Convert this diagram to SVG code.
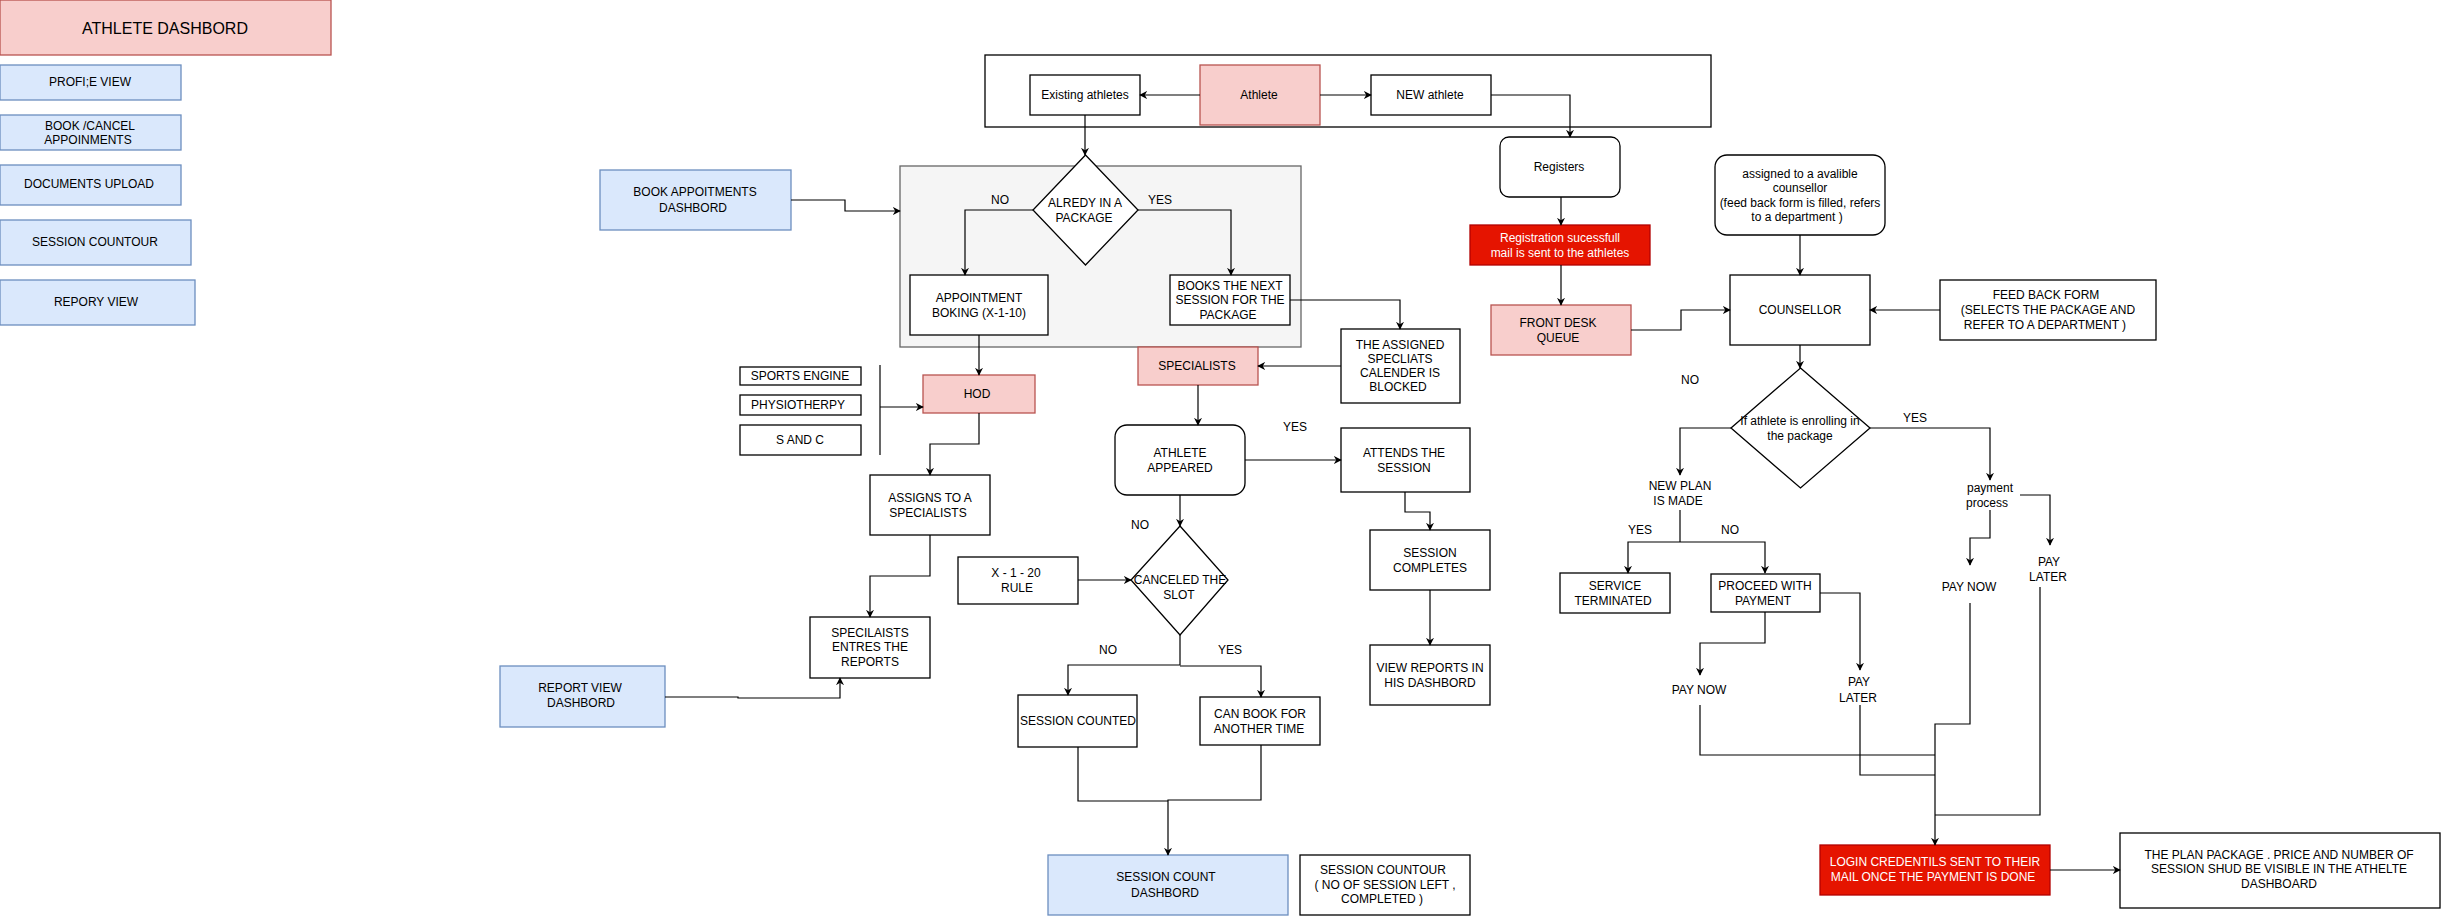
<svg xmlns="http://www.w3.org/2000/svg" width="2441" height="917" viewBox="0 0 2441 917">
<style>
text{font-family:"Liberation Sans",Arial,sans-serif;font-size:12px;fill:#000;text-anchor:middle;dominant-baseline:central}
.w{fill:#fff;stroke:#000;stroke-width:1.3}
.p{fill:#f8cecc;stroke:#b85450;stroke-width:1.3}
.b{fill:#dae8fc;stroke:#6c8ebf;stroke-width:1.3}
.r{fill:#e51400;stroke:#b20000;stroke-width:1.3}
.wt{fill:#fff}
.c path{fill:none;stroke:#000;stroke-width:1.2;marker-end:url(#a)}
.c path.n{marker-end:none}
</style>
<defs><marker id="a" viewBox="0 0 10 10" refX="9" refY="5" markerWidth="8" markerHeight="8" orient="auto" markerUnits="userSpaceOnUse"><path d="M0,0L10,5L0,10L3,5Z" fill="#000"/></marker></defs>
<rect width="2441" height="917" fill="#fff"/>
<g id="container-top"><rect x="985" y="55" width="726" height="72" fill="none" stroke="#000" stroke-width="1.3"/></g>
<g id="container-grey"><rect x="900" y="166" width="401" height="181" fill="#f5f5f5" stroke="#666" stroke-width="1.3"/></g>
<g id="athlete-dashbord"><rect class="p" x="0" y="0" width="331" height="55"/><text x="165" y="28" style="font-size:16px">ATHLETE DASHBORD</text></g>
<g id="profile"><rect class="b" x="0" y="65" width="181" height="35"/><text x="90" y="82">PROFI;E VIEW</text></g>
<g id="bookcancel"><rect class="b" x="0" y="115" width="181" height="35"/><text x="90" y="126">BOOK /CANCEL</text><text x="88" y="140">APPOINMENTS</text></g>
<g id="docs"><rect class="b" x="0" y="165" width="181" height="40"/><text x="89" y="184">DOCUMENTS UPLOAD</text></g>
<g id="sessioncountour"><rect class="b" x="0" y="220" width="191" height="45"/><text x="95" y="242">SESSION  COUNTOUR</text></g>
<g id="repory"><rect class="b" x="0" y="280" width="195" height="45"/><text x="96" y="302">REPORY VIEW</text></g>
<g id="bookdash"><rect class="b" x="600" y="170" width="191" height="60"/><text x="695" y="192">BOOK APPOITMENTS</text><text x="693" y="208">DASHBORD</text></g>
<g id="sports"><rect class="w" x="740" y="367" width="121" height="18"/><text x="800" y="376">SPORTS ENGINE</text></g>
<g id="physio"><rect class="w" x="740" y="395" width="121" height="20"/><text x="798" y="405">PHYSIOTHERPY</text></g>
<g id="sandc"><rect class="w" x="740" y="425" width="121" height="30"/><text x="800" y="440">S AND C</text></g>
<g id="existing"><rect class="w" x="1030" y="75" width="110" height="40"/><text x="1085" y="95">Existing athletes</text></g>
<g id="athlete"><rect class="p" x="1200" y="65" width="120" height="60"/><text x="1259" y="95">Athlete</text></g>
<g id="newathlete"><rect class="w" x="1371" y="75" width="120" height="40"/><text x="1430" y="95">NEW athlete</text></g>
<g id="alredy"><path class="w" d="M1085.5,155L1138,210L1085.5,265L1033,210Z"/><text x="1085" y="203">ALREDY IN A</text><text x="1084" y="218">PACKAGE</text></g>
<g id="appointment"><rect class="w" x="910" y="275" width="138" height="60"/><text x="979" y="298">APPOINTMENT</text><text x="979" y="313">BOKING (X-1-10)</text></g>
<g id="booksnext"><rect class="w" x="1170" y="275" width="120" height="50"/><text x="1230" y="286">BOOKS THE NEXT</text><text x="1230" y="300">SESSION FOR THE</text><text x="1228" y="315">PACKAGE</text></g>
<g id="assigned"><rect class="w" x="1341" y="329" width="119" height="74"/><text x="1400" y="345">THE ASSIGNED</text><text x="1400" y="359">SPECLIATS</text><text x="1400" y="373">CALENDER IS</text><text x="1398" y="387">BLOCKED</text></g>
<g id="specialists"><rect class="p" x="1138" y="347" width="120" height="38"/><text x="1197" y="366">SPECIALISTS</text></g>
<g id="hod"><rect class="p" x="923" y="375" width="112" height="38"/><text x="977" y="394">HOD</text></g>
<g id="registers"><rect class="w" x="1500" y="137" width="120" height="60" rx="9"/><text x="1559" y="167">Registers</text></g>
<g id="regsuccess"><rect class="r" x="1470" y="225" width="180" height="40"/><text class="wt" x="1560" y="238">Registration sucessfull</text><text class="wt" x="1560" y="253">mail is sent to the athletes</text></g>
<g id="frontdesk"><rect class="p" x="1491" y="305" width="140" height="50"/><text x="1558" y="323">FRONT DESK</text><text x="1558" y="338">QUEUE</text></g>
<g id="avalible"><rect class="w" x="1715" y="155" width="170" height="80" rx="12"/><text x="1800" y="174">assigned to a avalible</text><text x="1800" y="188">counsellor</text><text x="1800" y="203">(feed back form is filled, refers</text><text x="1797" y="217">to a department )</text></g>
<g id="counsellor"><rect class="w" x="1730" y="275" width="140" height="70"/><text x="1800" y="310">COUNSELLOR</text></g>
<g id="feedback"><rect class="w" x="1940" y="280" width="216" height="60"/><text x="2046" y="295">FEED BACK FORM</text><text x="2048" y="310">(SELECTS THE PACKAGE AND</text><text x="2045" y="325">REFER TO A DEPARTMENT )</text></g>
<g id="enrolling"><path class="w" d="M1800.5,368L1870,428L1800.5,488L1731,428Z"/><text x="1800" y="421">If athlete is enrolling in</text><text x="1800" y="436">the package</text></g>
<g id="newplan"><text x="1680" y="486">NEW PLAN</text><text x="1678" y="501">IS MADE</text></g>
<g id="payproc"><text x="1990" y="488">payment</text><text x="1987" y="503">process</text></g>
<g id="terminated"><rect class="w" x="1560" y="573" width="110" height="40"/><text x="1615" y="586">SERVICE</text><text x="1613" y="601">TERMINATED</text></g>
<g id="proceed"><rect class="w" x="1711" y="574" width="109" height="38"/><text x="1765" y="586">PROCEED WITH</text><text x="1763" y="601">PAYMENT</text></g>
<g id="paynow1"><text x="1699" y="690">PAY NOW</text></g>
<g id="paylater1"><text x="1859" y="682">PAY</text><text x="1858" y="698">LATER</text></g>
<g id="paynow2"><text x="1969" y="587">PAY NOW</text></g>
<g id="paylater2"><text x="2049" y="562">PAY</text><text x="2048" y="577">LATER</text></g>
<g id="login"><rect class="r" x="1820" y="845" width="230" height="50"/><text class="wt" x="1935" y="862">LOGIN CREDENTILS SENT TO THEIR</text><text class="wt" x="1933" y="877">MAIL ONCE THE PAYMENT IS DONE</text></g>
<g id="planpackage"><rect class="w" x="2120" y="833" width="320" height="75"/><text x="2279" y="855">THE PLAN PACKAGE  . PRICE AND NUMBER OF</text><text x="2279" y="869">SESSION SHUD BE VISIBLE IN THE ATHELTE</text><text x="2279" y="884">DASHBOARD</text></g>
<g id="assigns"><rect class="w" x="870" y="475" width="120" height="60"/><text x="930" y="498">ASSIGNS TO  A</text><text x="928" y="513">SPECIALISTS</text></g>
<g id="entres"><rect class="w" x="810" y="617" width="120" height="61"/><text x="870" y="633">SPECILAISTS</text><text x="870" y="647">ENTRES THE</text><text x="870" y="662">REPORTS</text></g>
<g id="reportview"><rect class="b" x="500" y="666" width="165" height="61"/><text x="580" y="688">REPORT VIEW</text><text x="581" y="703">DASHBORD</text></g>
<g id="appeared"><rect class="w" x="1115" y="425" width="130" height="70" rx="12"/><text x="1180" y="453">ATHLETE</text><text x="1180" y="468">APPEARED</text></g>
<g id="attends"><rect class="w" x="1341" y="428" width="129" height="64"/><text x="1404" y="453">ATTENDS THE</text><text x="1404" y="468">SESSION</text></g>
<g id="completes"><rect class="w" x="1370" y="530" width="120" height="60"/><text x="1430" y="553">SESSION</text><text x="1430" y="568">COMPLETES</text></g>
<g id="viewreports"><rect class="w" x="1370" y="645" width="120" height="60"/><text x="1430" y="668">VIEW REPORTS IN</text><text x="1430" y="683">HIS DASHBORD</text></g>
<g id="canceled"><path class="w" d="M1180,526L1228,580L1180,635L1131,580Z"/><text x="1180" y="580">CANCELED THE</text><text x="1179" y="595">SLOT</text></g>
<g id="rule"><rect class="w" x="958" y="557" width="120" height="47"/><text x="1016" y="573">X - 1 - 20</text><text x="1017" y="588">RULE</text></g>
<g id="counted"><rect class="w" x="1018" y="695" width="119" height="52"/><text x="1078" y="721">SESSION COUNTED</text></g>
<g id="canbook"><rect class="w" x="1200" y="697" width="120" height="48"/><text x="1260" y="714">CAN BOOK FOR</text><text x="1259" y="729">ANOTHER TIME</text></g>
<g id="countdash"><rect class="b" x="1048" y="855" width="240" height="60"/><text x="1166" y="877">SESSION COUNT</text><text x="1165" y="893">DASHBORD</text></g>
<g id="countour2"><rect class="w" x="1300" y="855" width="170" height="60"/><text x="1383" y="870">SESSION COUNTOUR</text><text x="1385" y="885">( NO OF SESSION LEFT ,</text><text x="1382" y="899">COMPLETED )</text></g>
<g id="labels">
<text x="1000" y="200">NO</text><text x="1160" y="200">YES</text><text x="1690" y="380">NO</text><text x="1915" y="418">YES</text>
<text x="1640" y="530">YES</text><text x="1730" y="530">NO</text><text x="1295" y="427">YES</text><text x="1140" y="525">NO</text>
<text x="1108" y="650">NO</text><text x="1230" y="650">YES</text>
</g>
<g class="c" id="connectors">
<path d="M791,200H845V211H900"/>
<path class="n" d="M880,365V455"/>
<path d="M880,407H923"/>
<path d="M1200,95H1140"/>
<path d="M1320,95H1371"/>
<path d="M1085,115V155"/>
<path d="M1033,210H965V275"/>
<path d="M1138,210H1231V275"/>
<path d="M1290,300H1400V329"/>
<path d="M1341,366H1258"/>
<path d="M979,335V375"/>
<path d="M1491,95H1570V137"/>
<path d="M1561,197V225"/>
<path d="M1561,265V305"/>
<path d="M1631,330H1681V310H1730"/>
<path d="M1198,385V425"/>
<path d="M1800,235V275"/>
<path d="M1940,310H1870"/>
<path d="M1800,345V368"/>
<path d="M1731,428H1680V475"/>
<path d="M1870,428H1990V480"/>
<path class="n" d="M1680,510V542"/>
<path d="M1680,542H1628V573"/>
<path d="M1680,542H1765V573"/>
<path d="M1765,612V643H1700V675"/>
<path d="M1820,593H1860V670"/>
<path d="M1990,510V538H1970V565"/>
<path d="M2020,495H2050V545"/>
<path d="M1970,603V724H1935V845"/>
<path class="n" d="M1700,705V755H1935"/>
<path class="n" d="M1860,705V775H1935"/>
<path class="n" d="M2040,587V815H1935"/>
<path d="M2050,870H2120"/>
<path d="M979,413V444H930V475"/>
<path d="M930,535V576H870V617"/>
<path d="M665,697H738V698H840V678"/>
<path d="M1245,460H1341"/>
<path d="M1405,492V512H1430V530"/>
<path d="M1430,590V645"/>
<path d="M1180,495V526"/>
<path d="M1078,580H1131"/>
<path d="M1180,635V665H1068V695"/>
<path d="M1180,666H1261V697"/>
<path class="n" d="M1078,747V801H1168"/>
<path d="M1261,745V800H1168V855"/>
</g>
</svg>
